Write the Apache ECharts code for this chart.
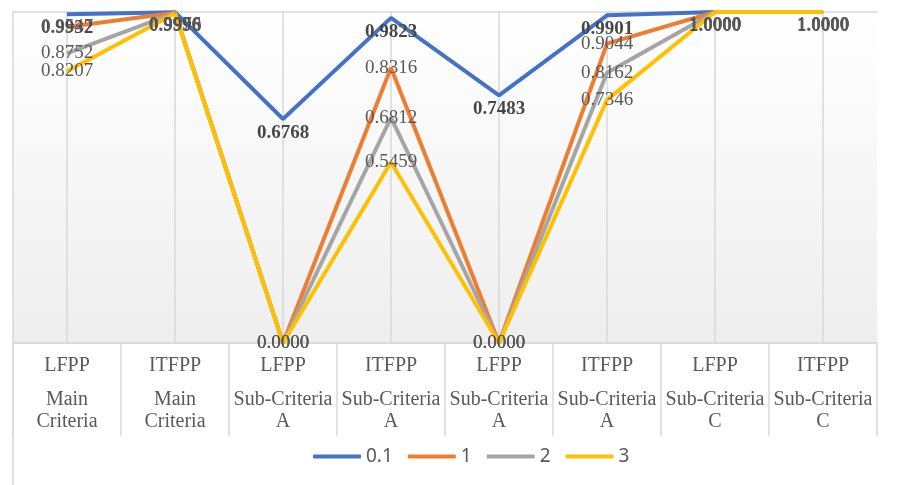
<!DOCTYPE html>
<html>
<head>
<meta charset="utf-8">
<script src="https://cdn.jsdelivr.net/npm/echarts@6/dist/echarts.min.js"></script>
<style>html,body{margin:0;padding:0;background:#fff}#c{width:914px;height:485px}</style>
</head>
<body>
<div id="c"></div>
<script>
var groups = ['LFPP', 'ITFPP', 'LFPP', 'ITFPP', 'LFPP', 'ITFPP', 'LFPP', 'ITFPP'];
var criteria = ['Main\nCriteria', 'Main\nCriteria', 'Sub-Criteria\nA', 'Sub-Criteria\nA', 'Sub-Criteria\nA', 'Sub-Criteria\nA', 'Sub-Criteria\nC', 'Sub-Criteria\nC'];
var seriesNames = ['0.1', '1', '2', '3'];
var s01 = [0.9932, 0.9996, 0.6768, 0.9823, 0.7483, 0.9901, 1.0000, 1.0000];
var s1  = [0.9547, 0.9976, 0.0000, 0.8316, 0.0000, 0.9044, 1.0000, 1.0000];
var s2  = [0.8752, 0.9970, 0.0000, 0.6812, 0.0000, 0.8162, 1.0000, 1.0000];
var s3  = [0.8207, 0.9956, 0.0000, 0.5459, 0.0000, 0.7346, 1.0000, 1.0000];
var colors = ['#4472C4', '#ED7D31', '#A5A5A5', '#FFC000'];

var categories = groups.map(function (g, i) { return g + '|' + criteria[i]; });
var serif = 'Liberation Serif';

function mkSeries(name, data, color, isFirst) {
  return {
    name: name, type: 'line', data: data,
    symbol: 'circle', symbolSize: 1, showSymbol: true,
    lineStyle: { color: color, width: 4 },
    itemStyle: { color: color },
    label: {
      show: true,
      position: isFirst ? 'bottom' : 'inside',
      distance: 4,
      fontFamily: serif, fontSize: 19,
      fontWeight: isFirst ? 'bold' : 'normal',
      color: isFirst ? '#474747' : '#595959',
      formatter: function (p) { return Number(p.value).toFixed(4); }
    },
    labelLayout: function (p) {
      var r = p.labelRect;
      if (r && r.y < 16) { return { dy: 16 - r.y }; }
      return {};
    },
    emphasis: { disabled: true },
    animation: false
  };
}

var chart = echarts.init(document.getElementById('c'), null, { renderer: 'canvas' });
chart.setOption({
  animation: false,
  backgroundColor: '#ffffff',
  color: colors,
  grid: {
    left: 13, right: 37, top: 12, bottom: 142,
    show: true, borderWidth: 0,
    backgroundColor: new echarts.graphic.LinearGradient(0, 0, 0, 1, [
      { offset: 0, color: '#ffffff' },
      { offset: 1, color: '#eeeeee' }
    ])
  },
  xAxis: {
    type: 'category',
    data: categories,
    boundaryGap: true,
    axisLine: { show: true, lineStyle: { color: '#d9d9d9', width: 1.5 } },
    axisTick: { show: true, length: 93, interval: 0, lineStyle: { color: '#d9d9d9', width: 1.5 } },
    splitLine: { show: true, alignWithLabel: true, interval: 0, lineStyle: { color: '#d9d9d9', width: 1.5 } },
    axisLabel: {
      interval: 0, margin: 0,
      formatter: function (v) {
        var parts = v.split('|');
        var sub = parts[1].split('\n');
        return '{a|' + parts[0] + '}\n{b|' + sub[0] + '}\n{b|' + sub[1] + '}';
      },
      rich: {
        a: { fontFamily: serif, fontSize: 20, color: '#595959', lineHeight: 46, align: 'center' },
        b: { fontFamily: serif, fontSize: 20, color: '#595959', lineHeight: 22, align: 'center' }
      }
    }
  },
  yAxis: {
    type: 'value', min: 0, max: 1, interval: 1,
    axisLabel: { show: false },
    axisTick: { show: false },
    axisLine: { show: true, lineStyle: { color: '#d9d9d9', width: 1.5 } },
    splitLine: { show: true, lineStyle: { color: '#d9d9d9', width: 1.5 } }
  },
  legend: {
    data: seriesNames,
    left: 308, top: 442,
    icon: 'roundRect',
    itemWidth: 48, itemHeight: 4, itemGap: 15,
    textStyle: { fontFamily: 'Noto Sans', fontSize: 19, color: '#595959' }
  },
  graphic: [{
    type: 'line', z: 10,
    shape: { x1: 13, y1: 343, x2: 13, y2: 485 },
    style: { stroke: '#d9d9d9', lineWidth: 1.5 }
  }],
  series: [
    mkSeries(seriesNames[0], s01, colors[0], true),
    mkSeries(seriesNames[1], s1, colors[1], false),
    mkSeries(seriesNames[2], s2, colors[2], false),
    mkSeries(seriesNames[3], s3, colors[3], false)
  ]
});
</script>
</body>
</html>
